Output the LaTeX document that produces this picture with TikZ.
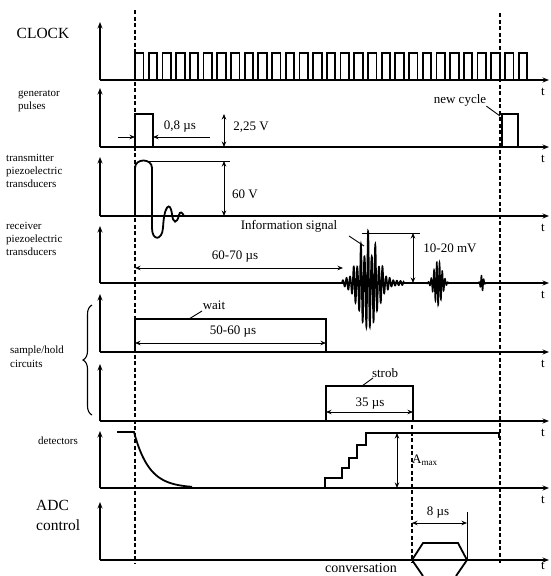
\documentclass[tikz,border=0pt]{standalone}
\usepackage{fontspec}
\setmainfont{Liberation Serif}
\usetikzlibrary{arrows.meta,decorations.pathreplacing}
\begin{document}
\begin{tikzpicture}[x=1pt,y=-1pt,
  axis/.style={line width=1.4pt,-{Stealth[length=6.5pt,width=5pt]}},
  sig/.style={line width=1.8pt,line join=miter},
  guide/.style={line width=1.2pt,dash pattern=on 4pt off 2.5pt},
  dim/.style={line width=1pt,{Stealth[length=5.5pt,width=4.5pt]}-{Stealth[length=5.5pt,width=4.5pt]}},
  dimr/.style={line width=1pt,-{Stealth[length=5.5pt,width=4.5pt]}},
  lead/.style={line width=0.9pt},
  lbl/.style={font=\fontsize{13}{15}\selectfont, inner sep=0pt},
  side/.style={font=\fontsize{11}{13.2}\selectfont, align=left, inner sep=0pt, anchor=north west},
  big/.style={font=\fontsize{15.5}{20}\selectfont, align=left, inner sep=0pt},
  tl/.style={font=\fontsize{13}{15}\selectfont, inner sep=0pt}
]
\useasboundingbox (0,0) rectangle (551,576);
\clip (0,0) rectangle (551,576);

% axes
\foreach \b/\t/\n/\d in {80/22/1/13,147/88/2/13,216/157/3/13,283/226/4/13,352/294/5/13,421/364/6/13,488/431/7/13,560/502/8/7} {
  \coordinate (o\n) at (100,\b);
  \coordinate (v\n) at (100,\t);
  \coordinate (h\n) at (549,\b);
  \draw[axis] (o\n) -- (v\n);
  \draw[axis] (o\n) -- (h\n);
  \node[tl,anchor=north] (t\n) at (543,\b+\d-5) {t};
}

% guides
\coordinate (gL1) at (135,10); \coordinate (gL2) at (135,563);
\coordinate (gR1) at (500,13); \coordinate (gR2) at (500,563);
\coordinate (gM1) at (412,425); \coordinate (gM2) at (412,563);
\draw[guide] (gL1) -- (gL2);
\draw[guide] (gR1) -- (gR2);
\draw[guide] (gM1) -- (gM2);

% left labels
\node[big] (lclock) at (43,33) {CLOCK};
\node[side] (lgen) at (18,90) {generator\\pulses};
\node[side] (ltr) at (6,154) {transmitter\\piezoelectric\\transducers};
\node[side] (lrc) at (6,222) {receiver\\piezoelectric\\transducers};
\node[side] (lsh) at (10,346) {sample/hold\\circuits};
\node[side] (ldet) at (38,437) {detectors};
\node[big,anchor=north west] (ladc) at (36,500) {ADC\\control};
\draw[line width=1.1pt,decorate,decoration={brace,amplitude=9pt}] (92,415) -- (92,305);

% CLOCK
\draw[sig] (100,80) -- (135,80)
  \foreach \i in {0,...,28} { -- ({135+\i*13.7},80) -- ({135+\i*13.7},53) -- ({143.5+\i*13.7},53) -- ({143.5+\i*13.7},80) };

% generator pulses
\draw[sig] (135,147) -- (135,114) -- (153,114) -- (153,147);
\draw[sig] (502,147) -- (502,114) -- (518,114) -- (518,147);
\coordinate (g1) at (118,137); \coordinate (g2) at (135,137);
\coordinate (g3) at (210,137); \coordinate (g4) at (153,137);
\draw[dimr] (g1) -- (g2);
\draw[dimr] (g3) -- (g4);
\node[lbl] (l08) at (180,127) {0,8 µs};
\coordinate (v1a) at (224,114); \coordinate (v1b) at (224,147);
\draw[dim] (v1a) -- (v1b);
\node[lbl] (l225) at (251,127) {2,25 V};
\node[lbl] (lnew) at (460,100) {new cycle};
\coordinate (n1) at (500,116);
\draw[lead] (lnew.south east) -- (n1);

% transmitter
\draw[sig] (135,216) -- (135,168) .. controls (135,158) and (152,158) .. (152,168)
  -- (152,228) .. controls (152,241) and (162,241) .. (163,228)
  .. controls (164,206) and (170,200) .. (172,214)
  .. controls (173,224) and (177,224) .. (179,215)
  .. controls (180,211) and (182,212) .. (184,216);
\coordinate (tr1) at (147,161); \coordinate (tr2) at (230,161);
\draw[lead] (tr1) -- (tr2);
\coordinate (v2a) at (224,161); \coordinate (v2b) at (224,216);
\draw[dim] (v2a) -- (v2b);
\node[lbl] (l60) at (245,194) {60 V};

% receiver
\coordinate (r1) at (135,268); \coordinate (r2) at (343,268);
\draw[dim] (r1) -- (r2);
\node[lbl] (l6070) at (235,257) {60-70 µs};
\draw[line width=1.6pt] plot[domain=0:62,samples=800]
  ({342+\x},{283-(50*exp(-((\x-26.1)/13)^2)*(0.5+0.5*abs(cos((\x-26.1)*25.7)))+2)*sin(\x*100)});
\draw[line width=1.4pt] plot[domain=0:26,samples=300]
  ({425+\x},{283-22*exp(-((\x-13)/5.5)^2)*sin(\x*130)});
\draw[line width=1.4pt] plot[domain=0:12,samples=150]
  ({476+\x},{283-8*exp(-((\x-6)/2)^2)*sin(\x*150)});
\coordinate (m1) at (362,233); \coordinate (m2) at (420,233);
\draw[lead] (m1) -- (m2);
\coordinate (v3a) at (413,233); \coordinate (v3b) at (413,283);
\draw[dim] (v3a) -- (v3b);
\node[lbl] (l1020) at (450,248) {10-20 mV};
\node[lbl] (linfo) at (289,226) {Information signal};
\coordinate (i1) at (349,236); \coordinate (i2) at (364,246);
\draw[lead] (i1) -- (i2);

% sample/hold 1
\draw[sig] (117,352) -- (135,352) -- (135,319) -- (326,319) -- (326,352);
\coordinate (w1) at (135,343); \coordinate (w2) at (326,343);
\draw[dim] (w1) -- (w2);
\node[lbl] (l5060) at (233,332) {50-60 µs};
\node[lbl] (lwait) at (214,305) {wait};
\coordinate (w3) at (202,311); \coordinate (w4) at (189,319);
\draw[lead] (w3) -- (w4);

% sample/hold 2
\draw[sig] (326,421) -- (326,386) -- (413,386) -- (413,421);
\coordinate (s1) at (326,412); \coordinate (s2) at (413,412);
\draw[dim] (s1) -- (s2);
\node[lbl] (l35) at (370,404) {35 µs};
\node[lbl] (lstrob) at (385,373) {strob};
\coordinate (s3) at (373,378); \coordinate (s4) at (362,386);
\draw[lead] (s3) -- (s4);

% detectors
\draw[sig] (117,432) -- (134,432) -- plot[domain=0:58,samples=60] ({134+\x},{488-56*exp(-\x/15)});
\draw[sig] (325,488) -- (325,478) -- (342,478) -- (342,468) -- (349,468) -- (349,458)
  -- (357,458) -- (357,445) -- (366,445) -- (366,433) -- (499,433) -- (499,438);
\coordinate (d1) at (397,433); \coordinate (d2) at (397,488);
\draw[dim] (d1) -- (d2);
\node[lbl] (lamax) at (425,460) {A\textsubscript{max}};

% ADC control
\draw[sig] (423,576) -- (412,560) -- (423,543) -- (458,543) -- (467,560) -- (456,576);
\coordinate (a1) at (412,523); \coordinate (a2) at (467,523);
\draw[dim] (a1) -- (a2);
\coordinate (a3) at (467,512); \coordinate (a4) at (467,560);
\draw[line width=0.9pt] (a3) -- (a4);
\node[lbl] (l8) at (438,513) {8 µs};
\node[lbl,font=\fontsize{14}{16}\selectfont] (lconv) at (361,568) {conversation};
\end{tikzpicture}
\end{document}
